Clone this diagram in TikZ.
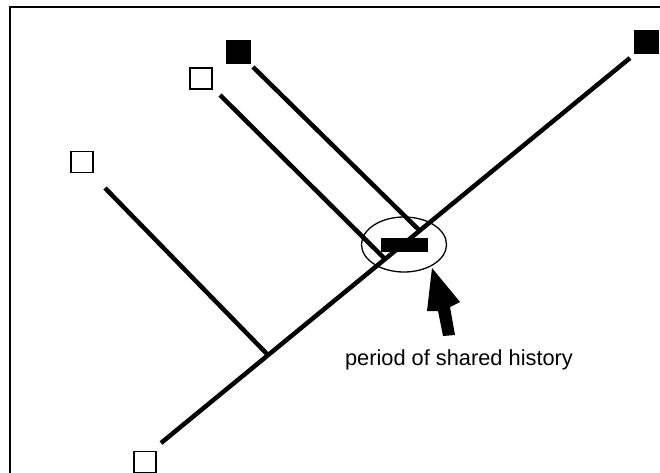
\documentclass[tikz,border=0pt]{standalone}
\usepackage{fontspec}
\setmainfont{Liberation Sans}
\usetikzlibrary{shapes.geometric}
\begin{document}
\begin{tikzpicture}[x=1pt,y=-1pt,
  branch/.style={line width=4.5pt},
  openbox/.style={draw, line width=1.6pt, minimum width=22pt, minimum height=21pt, inner sep=0pt},
  fullbox/.style={fill=black, minimum width=25pt, minimum height=24pt, inner sep=0pt},
  lbl/.style={font=\fontsize{21.8}{26}\selectfont, anchor=base, inner sep=0pt}]
\useasboundingbox (0,0) rectangle (660,472);
\draw[line width=2pt] (9.5,480) -- (9.5,7) -- (670,7);
% squares
\node[openbox] (sq1) at (82,162) {};
\node[openbox] (sq2) at (201,78.5) {};
\node[fullbox] (sq3) at (238,52) {};
\node[fullbox] (sq4) at (646,42) {};
\node[openbox] (sq5) at (145,462) {};
% main line
\coordinate (m0) at (161,443);
\coordinate (m1) at (630,58);
\coordinate (j1) at (268,355);
\coordinate (j2) at (385,259);
\coordinate (j3) at (420,231);
\coordinate (b1) at (105,188);
\coordinate (b2) at (220,95);
\coordinate (b3) at (253,67);
\draw[branch] (m0) -- (m1);
\draw[branch] (b1) -- (j1);
\draw[branch] (b2) -- (j2);
\draw[branch] (b3) -- (j3);
% shared history
\node[fill=black, minimum width=47pt, minimum height=14pt, inner sep=0pt] (bar) at (404.5,245) {};
\node[draw, ellipse, line width=1.3pt, minimum width=85pt, minimum height=55pt, inner sep=0pt] (ell) at (404,244.5) {};
\fill (432,268) -- (460,302) -- (450,307) -- (455,335) -- (443,336) -- (438,311) -- (427,311) -- cycle;
\node[lbl] (txt) at (459,365) {period of shared history};
\end{tikzpicture}
\end{document}
